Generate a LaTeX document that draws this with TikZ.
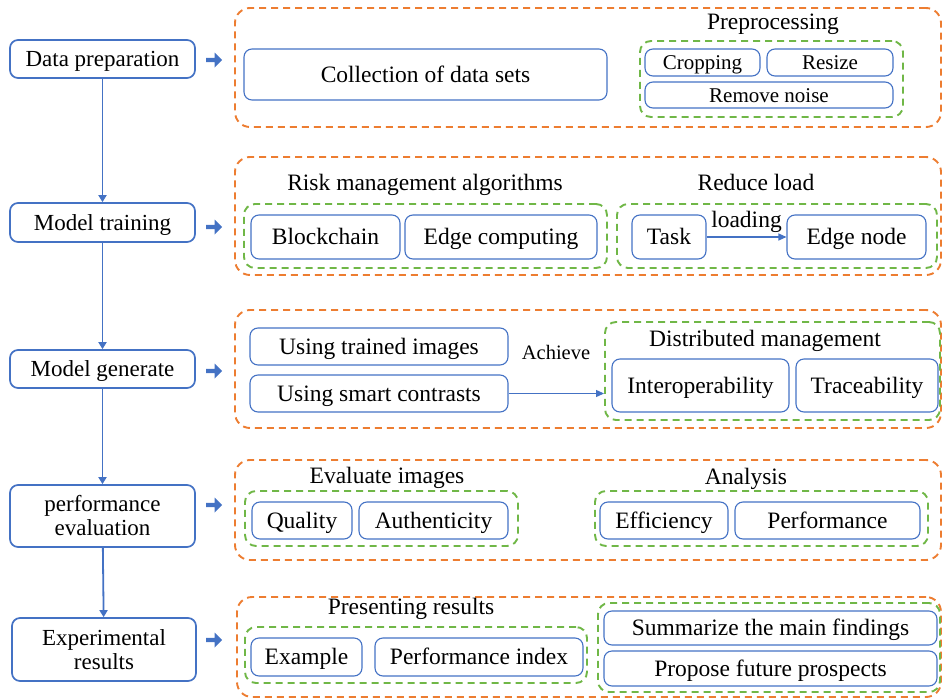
\documentclass[tikz,border=0pt]{standalone}
\usepackage{fontspec}
\setmainfont{Liberation Serif}
\usetikzlibrary{arrows.meta,shapes.arrows}
\definecolor{bl}{RGB}{68,114,196}
\definecolor{orng}{RGB}{237,125,49}
\definecolor{grn}{RGB}{112,183,71}
% box from corner coordinates: name, style, x1, y1, x2, y2, text
\newcommand\rbox[7]{\node[#2, minimum width={(#5)-(#3)}, minimum height={(#6)-(#4)}] (#1) at ({((#3)+(#5))/2},{((#4)+(#6))/2}) {#7};}
\tikzset{
  x=1pt, y=-1pt,
  even/.style={text height=15.5pt, text depth=0pt},
  evensmall/.style={text height=14pt, text depth=0pt},
  stage2/.style={draw=bl, line width=1.7pt, rounded corners=8pt, inner sep=0pt, align=center,
    font=\fontsize{23}{26}\selectfont},
  stage/.style={stage2, even},
  item/.style={draw=bl, line width=1.1pt, rounded corners=8pt, inner sep=0pt, even,
    font=\fontsize{23.5}{26}\selectfont},
  smallitem/.style={item, evensmall, font=\fontsize{21}{24}\selectfont},
  outer/.style={draw=orng, line width=1.9pt, dash pattern=on 7pt off 5pt, rounded corners=15pt, inner sep=0pt},
  group/.style={draw=grn, line width=1.9pt, dash pattern=on 7pt off 5pt, rounded corners=11pt, inner sep=0pt},
  title/.style={inner sep=0pt, even, font=\fontsize{23.5}{26}\selectfont},
  flow/.style={draw=bl, line width=1.8pt, -{Triangle[width=8pt,length=7pt]}},
  thin/.style={draw=bl, line width=1.1pt, -{Triangle[width=7pt,length=8pt]}},
  pointer/.style={single arrow, fill=bl, draw=none, minimum width=15pt, minimum height=16pt,
    single arrow head extend=3pt, inner sep=1pt},
}
\begin{document}
\begin{tikzpicture}
\useasboundingbox (0,0) rectangle (943,699);

% main stages
\rbox{s1}{stage}{10}{40}{195}{78}{Data preparation}
\rbox{s2}{stage}{10}{203}{195}{242}{Model training}
\rbox{s3}{stage}{10}{350}{195}{388}{Model generate}
\rbox{s4}{stage2}{10}{485}{195}{547}{performance\\[-2pt]evaluation}
\rbox{s5}{stage2}{12}{618}{196}{681}{Experimental\\[-2pt]results}
\draw[flow] (s1) -- (s2);
\draw[flow] (s2) -- (s3);
\draw[flow] (s3) -- (s4);
\draw[flow] (s4) -- (s5);

% pointers to the detail panels
\node[pointer] (p1) at (213,60) {};
\node[pointer] (p2) at (213,227) {};
\node[pointer] (p3) at (213,371) {};
\node[pointer] (p4) at (213,505) {};
\node[pointer] (p5) at (213,640) {};

% panel 1: data preparation
\rbox{o1}{outer}{235}{8}{941}{127}{}
\rbox{c1}{item}{244}{49}{607}{100}{Collection of data sets}
\node[title] (t1) at (773,22) {Preprocessing};
\rbox{g1}{group}{640}{41}{903}{117}{}
\rbox{crop}{smallitem}{645}{49}{760}{76}{Cropping}
\rbox{resz}{smallitem}{767}{49}{893}{76}{Resize}
\rbox{noise}{smallitem}{645}{82}{893}{108}{Remove noise}

% panel 2: model training
\rbox{o2}{outer}{235}{157}{941}{275}{}
\node[title] (t2a) at (425,183) {Risk management algorithms};
\rbox{g2a}{group}{244}{204}{607}{268}{}
\rbox{blk}{item}{251}{215}{400}{259}{Blockchain}
\rbox{edgec}{item}{405}{215}{597}{259}{Edge computing}
\node[title] (t2b) at (756,183) {Reduce load};
\rbox{g2b}{group}{617}{204}{937}{268}{}
\rbox{task}{item}{632}{215}{706}{259}{Task}
\rbox{edgen}{item}{787}{215}{926}{259}{Edge node}
\draw[thin] (task) -- node[above=9pt, inner sep=0pt, even, font=\fontsize{23.5}{26}\selectfont] {loading} (edgen);

% panel 3: model generate
\rbox{o3}{outer}{235}{310}{941}{428}{}
\rbox{uti}{item}{250}{328}{508}{365}{Using trained images}
\rbox{usc}{item}{250}{375}{508}{412}{Using smart contrasts}
\node[inner sep=0pt, evensmall, font=\fontsize{20.5}{24}\selectfont] (ach) at (556,352) {Achieve};
\rbox{g3}{group}{605}{322}{940}{420}{}
\node[title] (t3) at (765,339) {Distributed management};
\rbox{inter}{item}{612}{359}{789}{412}{Interoperability}
\rbox{trace}{item}{796}{359}{938}{412}{Traceability}
\draw[thin] (usc.east) -- (usc.east -| g3.west);

% panel 4: performance evaluation
\rbox{o4}{outer}{235}{460}{941}{560}{}
\node[title] (t4a) at (387,476) {Evaluate images};
\rbox{g4a}{group}{245}{491}{518}{546}{}
\rbox{qual}{item}{252}{502}{352}{539}{Quality}
\rbox{auth}{item}{359}{502}{508}{539}{Authenticity}
\node[title] (t4b) at (746,477) {Analysis};
\rbox{g4b}{group}{595}{491}{928}{546}{}
\rbox{eff}{item}{600}{502}{728}{539}{Efficiency}
\rbox{perf}{item}{735}{502}{920}{539}{Performance}

% panel 5: experimental results
\rbox{o5}{outer}{237}{597}{941}{697}{}
\node[title] (t5) at (411,607) {Presenting results};
\rbox{g5a}{group}{245}{627}{587}{683}{}
\rbox{ex}{item}{251}{638}{362}{676}{Example}
\rbox{pidx}{item}{375}{638}{583}{676}{Performance index}
\rbox{g5b}{group}{598}{603}{940}{692}{}
\rbox{summ}{item}{604}{611}{937}{645}{Summarize the main findings}
\rbox{prop}{item}{604}{651}{937}{686}{Propose future prospects}
\end{tikzpicture}
\end{document}
